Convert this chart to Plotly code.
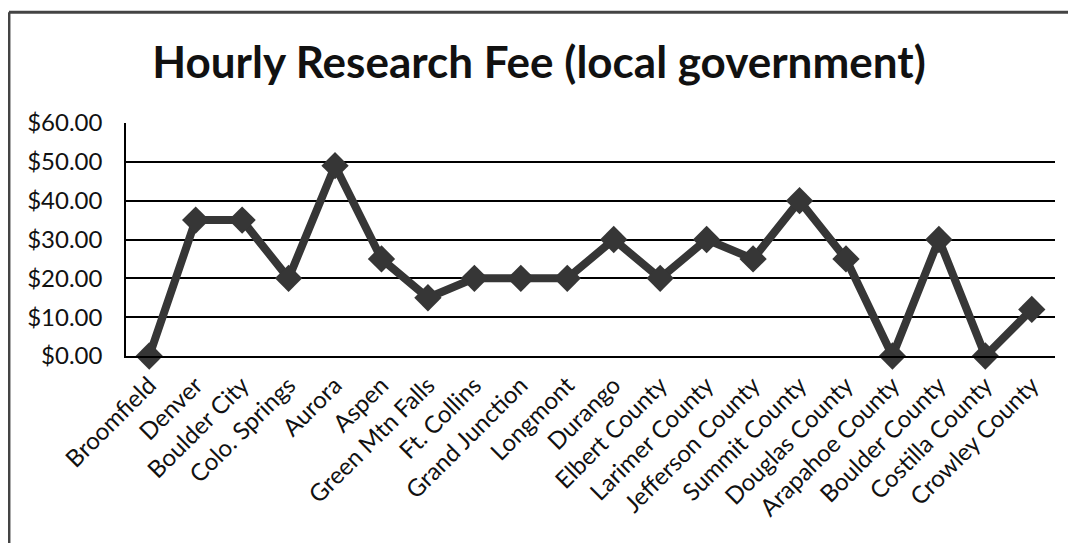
import plotly.graph_objects as go

categories = ["Broomfield", "Denver", "Boulder City", "Colo. Springs", "Aurora", "Aspen",
              "Green Mtn Falls", "Ft. Collins", "Grand Junction", "Longmont", "Durango",
              "Elbert County", "Larimer County", "Jefferson County", "Summit County",
              "Douglas County", "Arapahoe County", "Boulder County", "Costilla County",
              "Crowley County"]
fees = [0, 35, 35, 20, 49, 25, 15, 20, 20, 20, 30, 20, 30, 25, 40, 25, 0, 30, 0, 12]
y_ticks = [0, 10, 20, 30, 40, 50, 60]
y_tick_labels = ["$%.2f" % v for v in y_ticks]

FONT = "Lato"

fig = go.Figure()
fig.add_trace(go.Scatter(
    x=categories, y=fees, mode="lines+markers",
    line=dict(color="#363636", width=8),
    marker=dict(symbol="diamond", size=21, color="#363636"),
    showlegend=False, cliponaxis=False,
))

fig.update_layout(
    width=1076, height=543,
    margin=dict(l=118, r=29, t=115, b=195),
    paper_bgcolor="white", plot_bgcolor="white",
    title=dict(text="<b>Hourly Research Fee (local government)</b>",
               x=0.4935, xref="container", xanchor="center",
               y=0.900, yref="container", yanchor="middle",
               font=dict(family=FONT, size=44, color="#111")),
    font=dict(family=FONT, color="#111"),
)
fig.update_xaxes(
    type="category", range=[-0.5, 19.5], tickangle=-45,
    tickfont=dict(size=24, family=FONT, color="#111"),
    showgrid=False, showline=True, linecolor="black", linewidth=1.5,
    ticks="", ticklabelstandoff=4,
)
fig.update_yaxes(
    range=[0, 60], tickvals=y_ticks, ticktext=y_tick_labels,
    tickfont=dict(size=24, family=FONT, color="#111"),
    showgrid=True, gridcolor="black", gridwidth=1.5,
    showline=True, linecolor="black", linewidth=1.5,
    zeroline=False, ticks="", ticklabelstandoff=17,
)
# outer chart frame (left and top edges visible)
fig.add_shape(type="line", xref="paper", yref="paper", x0=-0.126, x1=-0.126, y0=-0.9, y1=1.475,
              line=dict(color="#444", width=3))
fig.add_shape(type="line", xref="paper", yref="paper", x0=-0.126, x1=1.1, y0=1.475, y1=1.475,
              line=dict(color="#444", width=3))

fig.write_html("out.html")
